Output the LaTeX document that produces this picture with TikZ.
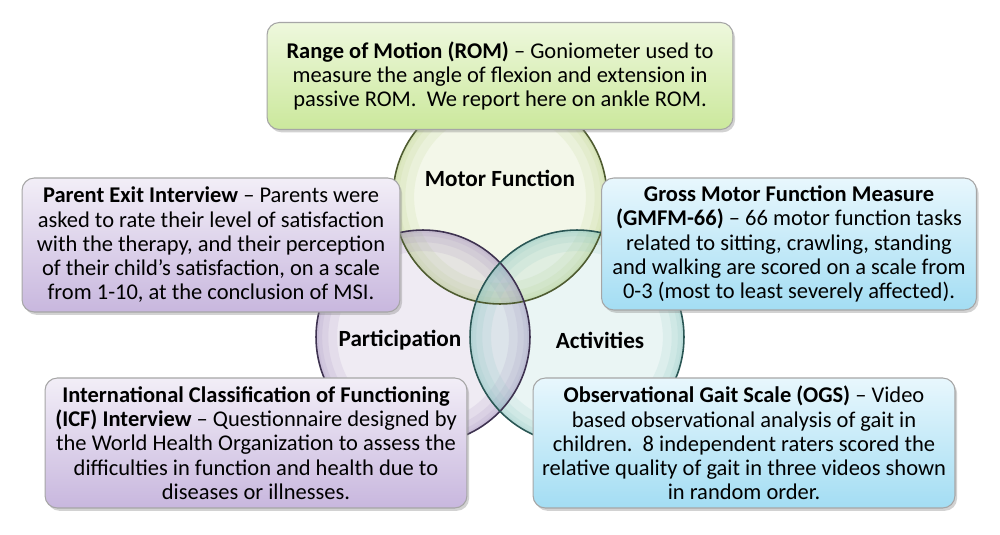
\documentclass[tikz,border=0pt]{standalone}
\usepackage{fontspec}
\setmainfont{Carlito}
\usetikzlibrary{shadows}
\definecolor{gfill}{HTML}{B5CF7A}
\definecolor{gline}{HTML}{4E5B30}
\definecolor{pfill}{HTML}{9C86B8}
\definecolor{pline}{HTML}{3E3250}
\definecolor{tfill}{HTML}{7FC1BD}
\definecolor{tline}{HTML}{2A5654}
\definecolor{gtop}{HTML}{EEF8DD}
\definecolor{gbot}{HTML}{CBE89C}
\definecolor{ptop}{HTML}{F2EEF7}
\definecolor{pbot}{HTML}{C8B7DE}
\definecolor{btop}{HTML}{E8F7FD}
\definecolor{bbot}{HTML}{A3DDF3}
\begin{document}
\begin{tikzpicture}[x=0.02cm,y=-0.02cm,
  vennc/.style={circle, minimum size=4.28cm, inner sep=0pt},
  vlabel/.style={font=\fontsize{13.2}{15}\selectfont\bfseries},
  infobox/.style={draw=black!35, line width=0.6pt, rounded corners=7pt, align=center, inner sep=0pt,
    font=\fontsize{12.8}{13.8}\selectfont,
    drop shadow={shadow xshift=1.2pt, shadow yshift=-1.6pt, opacity=0.35}},
  greenbox/.style={infobox, top color=gtop, bottom color=gbot},
  purplebox/.style={infobox, top color=ptop, bottom color=pbot},
  bluebox/.style={infobox, top color=btop, bottom color=bbot}
]
\useasboundingbox[fill=white] (0,0) rectangle (1000,534);

% Venn circles
\node[vennc] (mf) at (500,197) {};
\node[vennc] (pa) at (423,337) {};
\node[vennc] (ac) at (577,337) {};
\foreach \c/\col in {mf/gfill, pa/pfill, ac/tfill}{
  \fill[\col, fill opacity=0.16] (\c.center) circle[radius=2.14cm];
  \foreach \w in {12,7,3.5,1.5}{
    \draw[\col, draw opacity=0.13, line width=\w pt] (\c.center) circle[radius=2.14cm-\w pt/2];
  }
}
\draw[gline, line width=0.9pt] (mf.center) circle[radius=2.14cm];
\draw[pline, line width=0.9pt] (pa.center) circle[radius=2.14cm];
\draw[tline, line width=0.9pt] (ac.center) circle[radius=2.14cm];

% Boxes
\node[greenbox, minimum width=9.32cm, minimum height=2.14cm] (rom) at (500,76)
  {\textbf{Range of Motion (ROM)} – Goniometer used to\\
   measure the angle of flexion and extension in\\
   passive ROM.\ \ We report here on ankle ROM.};
\node[purplebox, minimum width=7.56cm, minimum height=2.68cm] (pei) at (211,245)
  {\textbf{Parent Exit Interview} – Parents were\\
   asked to rate their level of satisfaction\\
   with the therapy, and their perception\\
   of their child’s satisfaction, on a scale\\
   from 1-10, at the conclusion of MSI.};
\node[bluebox, minimum width=7.5cm, minimum height=2.64cm] (gm) at (789,244)
  {\textbf{Gross Motor Function Measure}\\
   \textbf{(GMFM-66)} – 66 motor function tasks\\
   related to sitting, crawling, standing\\
   and walking are scored on a scale from\\
   0-3 (most to least severely affected).};
\node[purplebox, minimum width=8.44cm, minimum height=2.6cm] (icf) at (256,443)
  {\textbf{International Classification of Functioning}\\
   \textbf{(ICF) Interview} – Questionnaire designed by\\
   the World Health Organization to assess the\\
   difficulties in function and health due to\\
   diseases or illnesses.};
\node[bluebox, minimum width=8.44cm, minimum height=2.6cm] (ogs) at (744,443)
  {\textbf{Observational Gait Scale (OGS)} – Video\\
   based observational analysis of gait in\\
   children.\ \ 8 independent raters scored the\\
   relative quality of gait in three videos shown\\
   in random order.};

% Circle labels
\node[vlabel] (lmf) at (500,178) {Motor Function};
\node[vlabel] (lpa) at (400,340) {Participation};
\node[vlabel] (lac) at (600,340) {Activities};
\end{tikzpicture}
\end{document}
